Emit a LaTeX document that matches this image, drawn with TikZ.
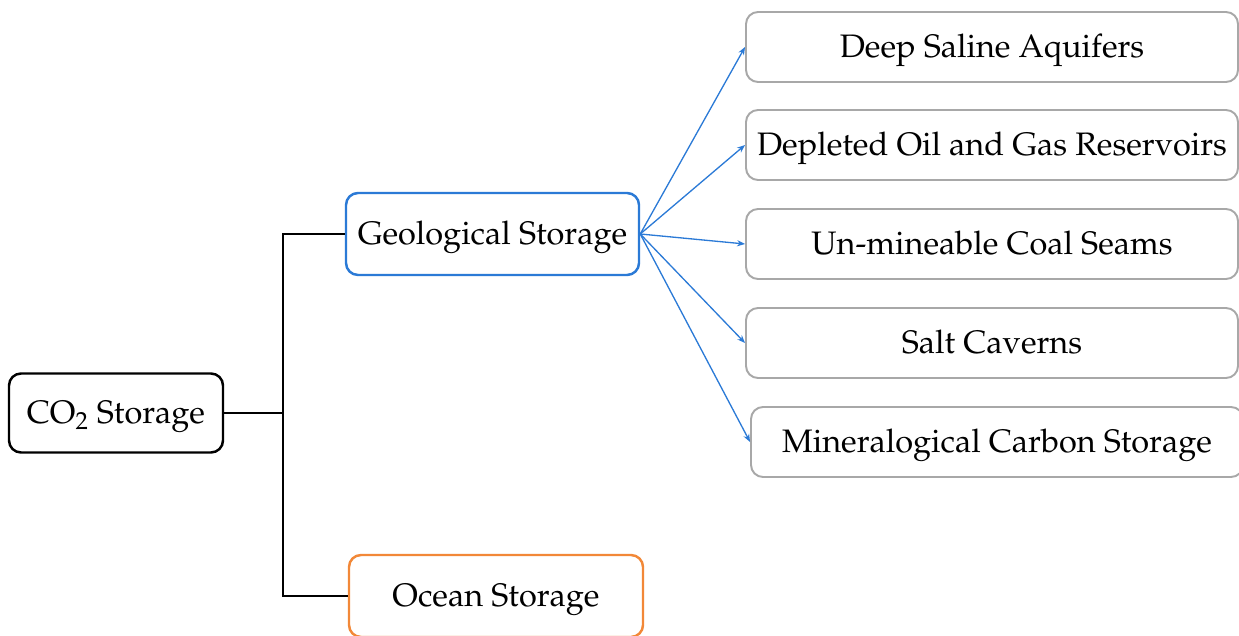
\documentclass[tikz,border=0pt]{standalone}
\usepackage[T1]{fontenc}
\usepackage{mathpazo}
\usepackage{tikz}
\usetikzlibrary{arrows.meta, positioning}
\definecolor{geoblue}{RGB}{43,122,214}
\definecolor{oceanorange}{RGB}{242,136,56}
\definecolor{subgray}{RGB}{168,168,168}

\begin{document}
\begin{tikzpicture}[
  base/.style={draw, rounded corners=0.24cm, fill=white, text height=15pt, text depth=2.5pt, font=\fontsize{18.5}{22}\selectfont},
  mainbox/.style={base, line width=1.4pt, minimum width=4.28cm, minimum height=1.58cm},
  geobox/.style={base, draw=geoblue, line width=1.4pt, minimum width=5.86cm, minimum height=1.64cm},
  oceanbox/.style={base, draw=oceanorange, line width=1.4pt, minimum width=5.88cm, minimum height=1.64cm},
  subbox/.style={base, draw=subgray, line width=1.1pt, minimum width=9.84cm, minimum height=1.4cm},
  link/.style={line width=1.4pt},
  arr/.style={-{Stealth[length=4.5pt, width=3.5pt]}, draw=geoblue, line width=0.75pt}
]
\useasboundingbox (0,0) rectangle (24.78,12.70);
\clip (0,0) rectangle (24.78,12.70);

% Root and first level
\node[mainbox]  (CO2) at (2.32,4.44) {CO\textsubscript{2} Storage};
\node[geobox]   (GS)  at (9.85,8.02) {Geological Storage};
\node[oceanbox] (OS)  at (9.92,0.78) {Ocean Storage};

% Geological storage options
\node[subbox] (DSA) at (19.84,11.76) {Deep Saline Aquifers};
\node[subbox] (DOG) at (19.84,9.80)  {Depleted Oil and Gas Reservoirs};
\node[subbox] (UCS) at (19.84,7.82)  {Un-mineable Coal Seams};
\node[subbox] (SC)  at (19.84,5.84)  {Salt Caverns};
\node[subbox] (MCS) at (19.94,3.86)  {Mineralogical Carbon Storage};

% Bracket from root
\coordinate (J) at (5.66,4.44);
\draw[link] (CO2) -- (J);
\draw[link] (GS.west) -- (GS.west -| J) |- (OS.west);

% Arrows to storage options
\foreach \t in {DSA, DOG, UCS, SC, MCS}
  \draw[arr] (GS.east) -- (\t.west);

\end{tikzpicture}
\end{document}
